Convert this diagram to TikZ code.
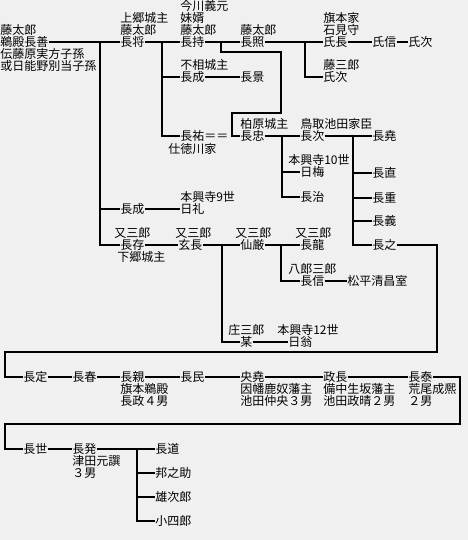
\documentclass[tikz,border=0pt]{standalone}
\usepackage{fontspec}
\setmainfont{Noto Sans CJK JP}
\definecolor{bgcolor}{RGB}{240,240,240}

\begin{document}
\begin{tikzpicture}[
    x=0.75pt, y=-0.75pt,
    person/.style={anchor=west, inner sep=0pt, font=\fontsize{9pt}{9pt}\selectfont, text height=7.9pt, text depth=1.1pt},
    note/.style={person},
    link/.style={line width=1.5pt, line join=miter}
]

% Background
\fill[bgcolor] (0,0) rectangle (468,540);

% Row 1
\node[note] (nagayoshi-a) at (0,30) {藤太郎};
\node[person] (nagayoshi) at (0,42) {鵜殿長善};
\node[note] (nagayoshi-b) at (0,54) {伝藤原実方子孫};
\node[note] (nagayoshi-c) at (0,66) {或日能野別当子孫};
\node[note] (nagamasa-a) at (120,18) {上郷城主};
\node[note] (nagamasa-b) at (120,30) {藤太郎};
\node[person] (nagamasa) at (120,42) {長将};
\node[note] (nagamochi-a) at (180,6) {今川義元};
\node[note] (nagamochi-b) at (180,18) {妹婿};
\node[note] (nagamochi-c) at (180,30) {藤太郎};
\node[person] (nagamochi) at (180,42) {長持};
\node[note] (nagateru-a) at (240,30) {藤太郎};
\node[person] (nagateru) at (240,42) {長照};
\node[note] (ujinaga-a) at (323,18) {旗本家};
\node[note] (ujinaga-b) at (323,30) {石見守};
\node[person] (ujinaga) at (323,42) {氏長};
\node[person] (ujinobu) at (372,42) {氏信};
\node[person] (ujitsugu) at (408,42) {氏次};

% Row 2
\node[note] (nagashige-a) at (180,65) {不相城主};
\node[person] (nagashige) at (180,77) {長成};
\node[person] (nagakage) at (240,77) {長景};
\node[note] (ujitsugub-a) at (323,65) {藤三郎};
\node[person] (ujitsugub) at (323,77) {氏次};

% Row 3
\node[person] (nagasuke) at (180,136) {長祐＝＝};
\node[note] (nagasuke-a) at (168,149) {仕徳川家};
\node[note] (nagatada-a) at (240,124) {柏原城主};
\node[person] (nagatada) at (240,136) {長忠};
\node[note] (nagatsugu-a) at (300,124) {鳥取池田家臣};
\node[person] (nagatsugu) at (300,136) {長次};
\node[person] (nagataka) at (372,136) {長堯};
\node[note] (nichibai-a) at (288,160) {本興寺10世};
\node[person] (nichibai) at (300,172) {日梅};
\node[person] (naganao) at (372,173) {長直};
\node[person] (nagaharu) at (300,197) {長治};
\node[person] (nagashigeb) at (372,198) {長重};
\node[person] (nagashigec) at (120,209) {長成};
\node[note] (nichirei-a) at (180,197) {本興寺9世};
\node[person] (nichirei) at (180,209) {日礼};
\node[person] (nagayoshib) at (372,221) {長義};

% Row 4
\node[note] (nagaari-a) at (114,233) {又三郎};
\node[person] (nagaari) at (120,245) {長存};
\node[note] (nagaari-b) at (117,257) {下郷城主};
\node[note] (gencho-a) at (175,233) {又三郎};
\node[person] (gencho) at (178,245) {玄長};
\node[note] (sengen-a) at (235,233) {又三郎};
\node[person] (sengen) at (240,245) {仙厳};
\node[note] (nagatatsu-a) at (295,233) {又三郎};
\node[person] (nagatatsu) at (300,245) {長龍};
\node[person] (nagayuki) at (372,245) {長之};
\node[note] (naganobu-a) at (288,269) {八郎三郎};
\node[person] (naganobu) at (300,281) {長信};
\node[person] (matsudaira) at (347,281) {松平清昌室};
\node[note] (bou-a) at (228,330) {庄三郎};
\node[person] (bou) at (240,342) {某};
\node[note] (nichio-a) at (277,330) {本興寺12世};
\node[person] (nichio) at (288,342) {日翁};

% Row 5
\node[person] (nagasada) at (23,377) {長定};
\node[person] (nagaharub) at (72,377) {長春};
\node[person] (nagachika) at (120,377) {長親};
\node[note] (nagachika-a) at (120,389) {旗本鵜殿};
\node[note] (nagachika-b) at (120,401) {長政４男};
\node[person] (nagatami) at (180,377) {長民};
\node[person] (hisataka) at (240,377) {央堯};
\node[note] (hisataka-a) at (240,389) {因幡鹿奴藩主};
\node[note] (hisataka-b) at (240,401) {池田仲央３男};
\node[person] (masanaga) at (323,377) {政長};
\node[note] (masanaga-a) at (323,389) {備中生坂藩主};
\node[note] (masanaga-b) at (323,401) {池田政晴２男};
\node[person] (nagayasu) at (408,377) {長泰};
\node[note] (nagayasu-a) at (408,389) {荒尾成熈};
\node[note] (nagayasu-b) at (408,401) {２男};

% Row 6
\node[person] (nagayo) at (23,449) {長世};
\node[person] (nagaaki) at (72,449) {長発};
\node[note] (nagaaki-a) at (72,461) {津田元譔};
\node[note] (nagaaki-b) at (72,473) {３男};
\node[person] (nagamichi) at (155,449) {長道};
\node[person] (kuninosuke) at (155,473) {邦之助};
\node[person] (yujiro) at (155,497) {雄次郎};
\node[person] (koshiro) at (155,521) {小四郎};

% Junctions
\coordinate (j1) at (100,42);
\coordinate (j2) at (162,42);
\coordinate (j3) at (221,42);
\coordinate (j4) at (305,42);
\coordinate (j5) at (282,136);
\coordinate (j6) at (353,136);
\coordinate (j7) at (222,245);
\coordinate (j8) at (281,245);
\coordinate (j9) at (137,449);
\coordinate (r1) at (281,52);
\coordinate (r2) at (232,113);
\coordinate (r3) at (437,352);
\coordinate (r4) at (5,352);
\coordinate (r5) at (460,424);
\coordinate (r6) at (5,424);

% Links
\draw[link] (nagayoshi) -- (nagamasa);
\draw[link] (j1) |- (nagashigec);
\draw[link] (j1) |- (nagaari);
\draw[link] (nagamasa) -- (nagamochi);
\draw[link] (j2) |- (nagashige);
\draw[link] (j2) |- (nagasuke);
\draw[link] (nagashige) -- (nagakage);
\draw[link] (nagamochi) -- (nagateru);
\draw[link] (j3) |- (r1) |- (r2) |- (nagatada);
\draw[link] (nagateru) -- (ujinaga);
\draw[link] (j4) |- (ujitsugub);
\draw[link] (ujinaga) -- (ujinobu);
\draw[link] (ujinobu) -- (ujitsugu);
\draw[link] (nagatada) -- (nagatsugu);
\draw[link] (j5) |- (nichibai);
\draw[link] (j5) |- (nagaharu);
\draw[link] (nagatsugu) -- (nagataka);
\draw[link] (j6) |- (naganao);
\draw[link] (j6) |- (nagashigeb);
\draw[link] (j6) |- (nagayoshib);
\draw[link] (j6) |- (nagayuki);
\draw[link] (nagashigec) -- (nichirei);
\draw[link] (nagaari) -- (gencho);
\draw[link] (gencho) -- (sengen);
\draw[link] (j7) |- (bou);
\draw[link] (bou) -- (nichio);
\draw[link] (sengen) -- (nagatatsu);
\draw[link] (j8) |- (naganobu);
\draw[link] (naganobu) -- (matsudaira);
\draw[link] (nagayuki.east) -| (r3) -- (r4) |- (nagasada.west);
\draw[link] (nagasada) -- (nagaharub);
\draw[link] (nagaharub) -- (nagachika);
\draw[link] (nagachika) -- (nagatami);
\draw[link] (nagatami) -- (hisataka);
\draw[link] (hisataka) -- (masanaga);
\draw[link] (masanaga) -- (nagayasu);
\draw[link] (nagayasu.east) -| (r5) -- (r6) |- (nagayo.west);
\draw[link] (nagayo) -- (nagaaki);
\draw[link] (nagaaki) -- (nagamichi);
\draw[link] (j9) |- (kuninosuke);
\draw[link] (j9) |- (yujiro);
\draw[link] (j9) |- (koshiro);

\end{tikzpicture}
\end{document}
